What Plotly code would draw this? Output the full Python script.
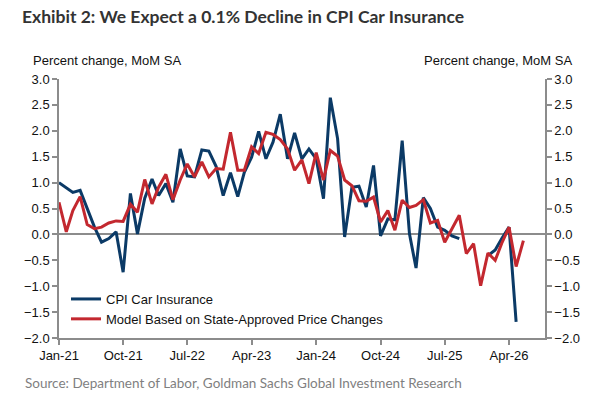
import plotly.graph_objects as go
import pandas as pd

# ---- data (monthly, starting Jan-2021) ----
start_month = "2021-01-01"
cpi_car_insurance = [
    1.00, 0.90, 0.81, 0.85, 0.50, 0.14, -0.15, -0.08, 0.05, -0.73, 0.79, 0.01,
    0.70, 1.07, 0.75, 0.98, 0.62, 1.65, 1.13, 1.11, 1.63, 1.61, 1.31, 0.75,
    1.19, 0.73, 1.20, 1.49, 1.99, 1.46, 1.78, 2.32, 1.46, 1.96, 1.46, 1.65,
    1.46, 0.69, 2.64, 1.85, -0.05, 0.91, 0.93, 0.53, 1.33, -0.03, 0.30, 0.28,
    1.81, 0.01, -0.65, 0.71, 0.50, 0.14, 0.08, -0.03, -0.08, None, None, None,
    -0.41, -0.30, -0.08, 0.14, -1.69,
]
model_state_approved = [
    0.62, 0.05, 0.46, 0.73, 0.19, 0.11, 0.14, 0.22, 0.26, 0.25, 0.58, 0.43,
    1.06, 0.59, 0.91, 1.16, 0.67, 1.05, 1.36, 1.11, 1.40, 1.11, 1.27, 1.26,
    1.97, 1.24, 1.24, 1.69, 1.56, 1.97, 1.93, 1.83, 1.65, 1.24, 1.44, 0.98,
    1.58, 1.05, 1.62, 1.51, 1.05, 0.94, 0.65, 0.64, 0.72, 0.24, 0.46, 0.08,
    0.66, 0.52, 0.56, 0.67, 0.22, 0.27, -0.15, 0.10, 0.37, -0.37, -0.18, -0.99,
    -0.36, -0.50, -0.17, 0.14, -0.62, -0.12,
]
tick_dates = ["2021-01-01", "2021-10-01", "2022-07-01", "2023-04-01",
              "2024-01-01", "2024-10-01", "2025-07-01", "2026-04-01"]
tick_labels = ["Jan-21", "Oct-21", "Jul-22", "Apr-23", "Jan-24", "Oct-24", "Jul-25", "Apr-26"]
y_ticks = [-2.0, -1.5, -1.0, -0.5, 0.0, 0.5, 1.0, 1.5, 2.0, 2.5, 3.0]
x_range = ["2021-01-01", "2026-09-01"]
y_range = [-2.0, 3.0]

dates_cpi = pd.date_range(start_month, periods=len(cpi_car_insurance), freq="MS")
dates_model = pd.date_range(start_month, periods=len(model_state_approved), freq="MS")

# ---- layout constants ----
W, H = 611, 410
L, R, T, B = 59, 66, 79, 72
PW, PH = W - L - R, H - T - B

def px_x(px):
    return (px - L) / PW

def px_y(py):
    return (H - B - py) / PH

BLUE = "#0b3a66"
RED = "#c3282f"
AX = "#8c8c8c"
TICKFONT = dict(family="Liberation Sans, Arial, sans-serif", size=13, color="#111111")

fig = go.Figure()
fig.add_trace(go.Scatter(x=dates_cpi, y=cpi_car_insurance, mode="lines",
                         name="CPI Car Insurance", legendgroup="a",
                         line=dict(color=BLUE, width=3), connectgaps=False))
fig.add_trace(go.Scatter(x=dates_model, y=model_state_approved, mode="lines",
                         name="Model Based on State-Approved Price Changes", legendgroup="b",
                         line=dict(color=RED, width=3)))
# invisible trace to create the mirrored right axis
fig.add_trace(go.Scatter(x=[dates_model[0]], y=[None], yaxis="y2", showlegend=False,
                         hoverinfo="skip"))

fig.update_layout(
    width=W, height=H,
    margin=dict(l=L, r=R, t=T, b=B, pad=0),
    paper_bgcolor="white", plot_bgcolor="white",
    showlegend=True,
    legend=dict(x=px_x(66), y=px_y(284), xanchor="left", yanchor="top",
                bgcolor="rgba(0,0,0,0)", font=dict(family="Liberation Sans, Arial, sans-serif",
                                                    size=13, color="#111111"),
                itemwidth=30, tracegroupgap=6, traceorder="normal"),
    title=dict(text="<b>Exhibit 2: We Expect a 0.1% Decline in CPI Car Insurance</b>",
               x=22 / W, y=1 - 17 / H, xanchor="left", yanchor="middle",
               xref="container", yref="container",
               font=dict(family="Lato, sans-serif", size=17.5, color="#333333")),
    xaxis=dict(type="date", range=x_range, tickvals=tick_dates, ticktext=tick_labels,
               showline=True, linecolor=AX, linewidth=1.5, ticks="outside", ticklen=5,
               tickcolor=AX, tickwidth=1.5, showgrid=False, zeroline=False,
               tickfont=TICKFONT, mirror=False),
    yaxis=dict(range=y_range, tickvals=y_ticks, tickformat=".1f",
               showline=True, linecolor=AX, linewidth=1.5, ticks="outside", ticklen=5,
               tickcolor=AX, tickwidth=1.5, showgrid=False,
               zeroline=True, zerolinecolor=AX, zerolinewidth=1.5,
               tickfont=TICKFONT),
    yaxis2=dict(range=y_range, tickvals=y_ticks, tickformat=".1f", overlaying="y",
                side="right", showline=True, linecolor=AX, linewidth=1.5,
                ticks="outside", ticklen=5, tickcolor=AX, tickwidth=1.5,
                showgrid=False, zeroline=False, tickfont=TICKFONT),
)

annos = [
    dict(text="Percent change, MoM SA", x=px_x(107), y=px_y(61), xanchor="center",
         yanchor="middle"),
    dict(text="Percent change, MoM SA", x=px_x(574), y=px_y(61), xanchor="right",
         yanchor="middle"),
]
for a in annos:
    fig.add_annotation(xref="paper", yref="paper", showarrow=False,
                       font=dict(family="Liberation Sans, Arial, sans-serif", size=13,
                                 color="#111111"), **a)
fig.add_annotation(xref="paper", yref="paper", showarrow=False,
                   text="Source: Department of Labor, Goldman Sachs Global Investment Research",
                   x=px_x(23), y=px_y(383), xanchor="left", yanchor="middle",
                   font=dict(family="Lato, sans-serif", size=13.5, color="#7f7f7f"))

fig.write_html("out.html")
